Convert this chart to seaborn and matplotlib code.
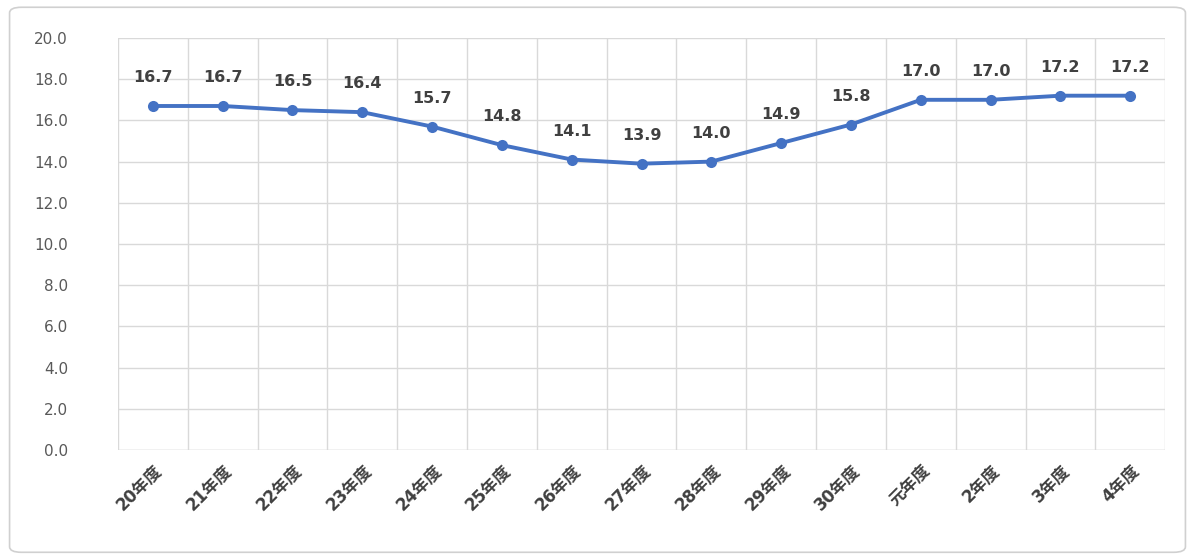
import matplotlib
matplotlib.use("Agg")
import matplotlib.pyplot as plt
from matplotlib.patches import FancyBboxPatch
from matplotlib.ticker import MultipleLocator, FixedLocator
import numpy as np
import pandas as pd
import seaborn as sns

years = ["20年度", "21年度", "22年度", "23年度", "24年度", "25年度", "26年度",
         "27年度", "28年度", "29年度", "30年度", "元年度", "2年度", "3年度", "4年度"]
values = [16.7, 16.7, 16.5, 16.4, 15.7, 14.8, 14.1, 13.9, 14.0, 14.9, 15.8,
          17.0, 17.0, 17.2, 17.2]

sns.set_theme(style="white")
plt.rcParams['font.family'] = ['DejaVu Sans', 'Noto Sans CJK JP']

df = pd.DataFrame({"year": years, "value": values})
df["pos"] = np.arange(len(years))

fig = plt.figure(figsize=(11.95, 5.59), dpi=100)
ax = fig.add_axes([0.0987, 0.195, 0.8763, 0.737])

sns.lineplot(data=df, x="pos", y="value", ax=ax, color="#4472C4", linewidth=2.8,
             marker="o", markersize=8, markeredgewidth=0, zorder=3)

for x, v in zip(df["pos"], df["value"]):
    ax.annotate(f"{v:.1f}", (x, v), xytext=(0, 15), textcoords="offset points",
                ha="center", va="bottom", fontsize=11.5, fontweight="bold",
                color="#404040")

ax.set_xlim(-0.5, len(years) - 0.5)
ax.set_ylim(0, 20)
ax.yaxis.set_major_locator(MultipleLocator(2))
ax.set_yticklabels([f"{t:.1f}" for t in ax.get_yticks()])
ax.set_xticks(df["pos"])
ax.set_xticklabels(years, rotation=45, ha="right", rotation_mode="anchor",
                   fontsize=12, fontweight="bold", color="#404040")
ax.xaxis.set_minor_locator(FixedLocator(np.arange(-0.5, len(years), 1.0)))
ax.tick_params(axis="y", labelsize=11, colors="#595959", length=0, pad=36)
ax.tick_params(axis="x", length=0, pad=8)
ax.grid(axis="y", which="major", color="#d9d9d9", linewidth=1)
ax.grid(axis="x", which="minor", color="#d9d9d9", linewidth=1)
ax.grid(axis="x", which="major", visible=False)
for s in ax.spines.values():
    s.set_visible(False)
ax.axhline(0, color="#d9d9d9", linewidth=1, zorder=1)
ax.set_xlabel("")
ax.set_ylabel("")

frame = FancyBboxPatch((0.008, 0.012), 0.984, 0.975, boxstyle="round,pad=0,rounding_size=0.01",
                       transform=fig.transFigure, fill=False, edgecolor="#d0d0d0",
                       linewidth=1.2)
fig.patches.append(frame)

fig.savefig("out.png", dpi=100, facecolor="white")
